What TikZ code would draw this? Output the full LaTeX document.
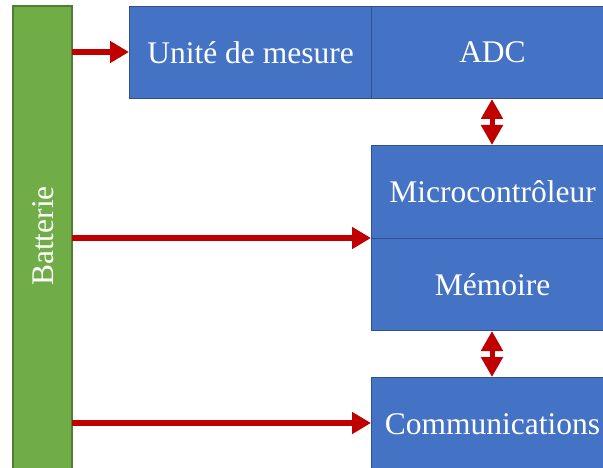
\documentclass[tikz,border=0pt]{standalone}
\usepackage{fontspec}
\setmainfont{Liberation Serif}
\usetikzlibrary{arrows.meta}
\definecolor{boxblue}{HTML}{4472C4}
\definecolor{boxedge}{HTML}{2F528F}
\definecolor{batgreen}{HTML}{70AD47}
\definecolor{batedge}{HTML}{507E32}
\definecolor{arrred}{HTML}{C00000}
\tikzset{
  lbl/.style={text=white, font=\fontsize{31.5}{34}\selectfont},
  blk/.style={lbl, draw=boxedge, line width=1pt, fill=boxblue},
  pwr/.style={draw=arrred, line width=6.5pt, -{Triangle[width=21pt,length=19pt]}},
  dbl/.style={draw=arrred, line width=5pt, {Triangle[width=21pt,length=20pt]}-{Triangle[width=21pt,length=20pt]}},
}
\begin{document}
\begin{tikzpicture}[x=1pt,y=-1pt]
\useasboundingbox (0,0) rectangle (603,468);
\begin{scope}
\clip (0,0) rectangle (603,468);
\draw[draw=batedge, line width=1.2pt, fill=batgreen] (13,6) rectangle (72,480);
\node[lbl, rotate=90] (bat) at (43.5,236) {Batterie};
\coordinate (batR1) at (72,52);
\coordinate (batR2) at (72,238);
\coordinate (batR3) at (72,423);
\node[blk, minimum width=242pt, minimum height=92pt, anchor=north west] (um) at (129,6) {Unité de mesure};
\node[blk, minimum width=242pt, minimum height=92pt, anchor=north west] (adc) at (371,6) {ADC};
\node[blk, minimum width=242pt, minimum height=93pt, anchor=north west] (mcu) at (371,145) {Microcontrôleur};
\node[blk, minimum width=242pt, minimum height=92pt, anchor=north west] (mem) at (371,238) {Mémoire};
\node[blk, minimum width=242pt, minimum height=93pt, anchor=north west] (com) at (371,377) {Communications};
\end{scope}
\draw[pwr] (batR1) -- (um.west |- batR1);
\draw[pwr] (batR2) -- (mcu.west |- batR2);
\draw[pwr] (batR3) -- (com.west |- batR3);
\draw[dbl] (adc.south -| 492,0) -- (mcu.north -| 492,0);
\draw[dbl] (mem.south -| 492,0) -- (com.north -| 492,0);
\end{tikzpicture}
\end{document}
